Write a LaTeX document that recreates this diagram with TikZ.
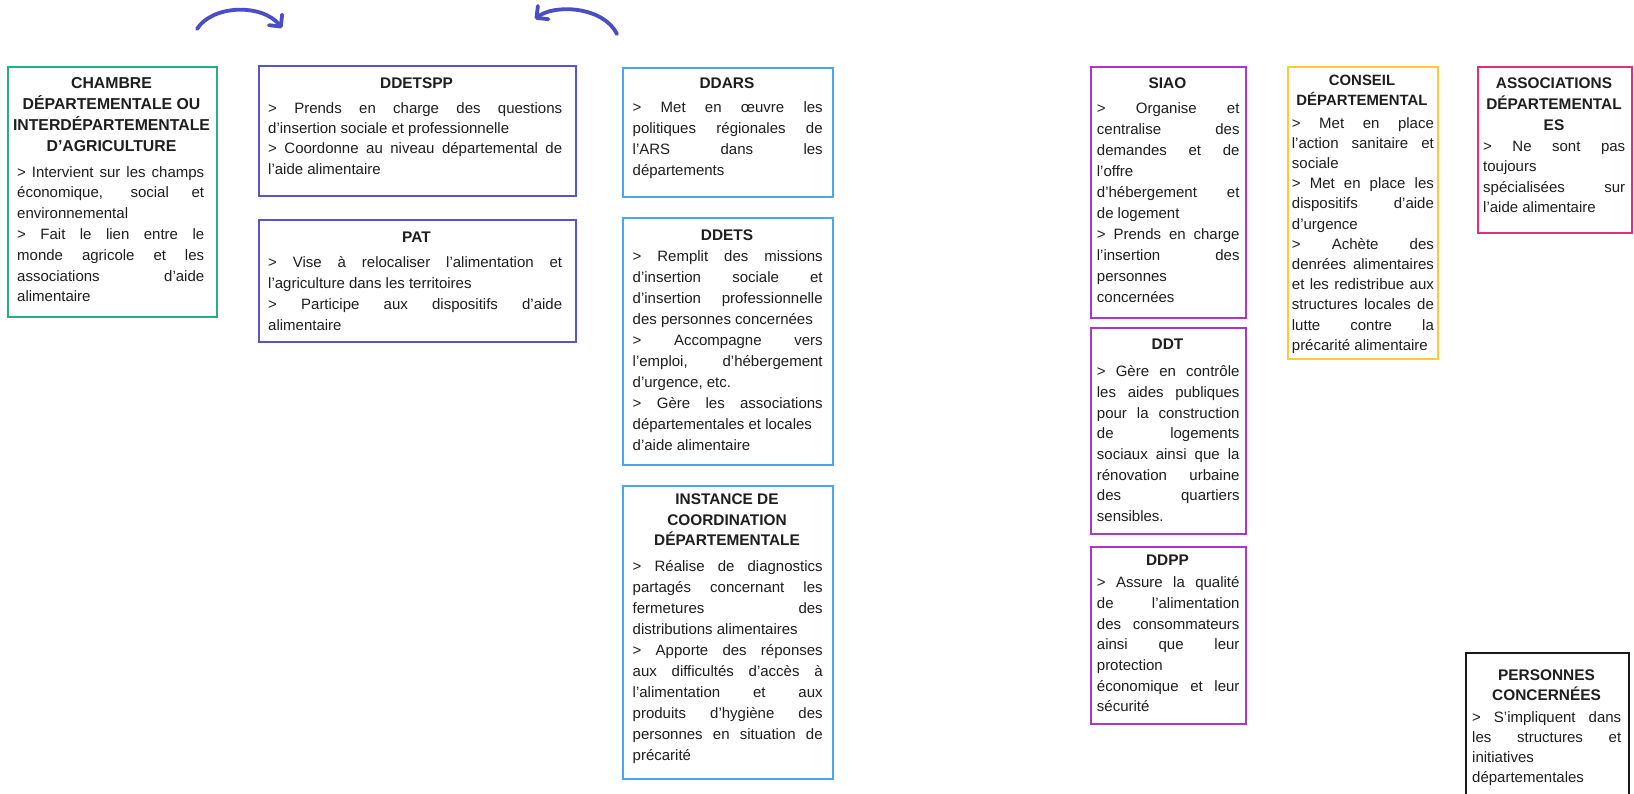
\documentclass[tikz,border=0pt]{standalone}
\usepackage{fontspec}
\setmainfont{Liberation Sans}
\usetikzlibrary{arrows.meta}
\definecolor{cgreen}{HTML}{27AD89}
\definecolor{cindigo}{HTML}{5557C6}
\definecolor{clblue}{HTML}{47A6F0}
\definecolor{cpurple}{HTML}{A839C8}
\definecolor{cyellow}{HTML}{FFC93A}
\definecolor{cpink}{HTML}{E0307C}
\definecolor{cblack}{HTML}{1A1A1A}
\definecolor{carrow}{HTML}{4A4EC2}
\definecolor{ctext}{HTML}{1E1E1E}
\newcommand{\jline}[1]{\makebox[\linewidth][s]{#1}\par}
\newcommand{\pline}[1]{#1\par}
\newcommand{\ttext}[4]{\parbox[t]{#1}{\centering\fontsize{#4}{#2}\selectfont\bfseries #3}}
\newcommand{\btext}[3]{\parbox[t]{#1}{\fontsize{15}{#2}\selectfont #3}}
\tikzset{
  frame/.style={draw=#1, line width=2.2pt, inner sep=0pt, anchor=north west, fill=none},
  ttl/.style={inner sep=0pt, anchor=base, text=ctext},
  bdy/.style={inner sep=0pt, anchor=base west, text=ctext},
  swoosh/.style={draw=carrow, line width=3.8pt, line cap=round,
    -{Straight Barb[length=8.5pt,width=17pt,line width=3.8pt,round]}},
}
\begin{document}
\begin{tikzpicture}[x=1pt,y=-1pt]
\useasboundingbox (0,0) rectangle (1634,793);
\fill[white] (0,0) rectangle (1634,793);

% top arrows
\coordinate (a1s) at (197,29);
\coordinate (a1e) at (282,28);
\coordinate (a2s) at (617,34);
\coordinate (a2e) at (535,19);
\draw[swoosh] (a1s) .. controls (212,5) and (262,3) .. (a1e);
\draw[swoosh] (a2s) .. controls (603,6) and (554,4) .. (a2e);

% CHAMBRE
\node[frame=cgreen, minimum width=209pt, minimum height=250pt] (cham) at (7,66) {};
\node[ttl] (chamt) at (111.5,88.5) {\ttext{209pt}{21pt}{CHAMBRE\\DÉPARTEMENTALE OU\\INTERDÉPARTEMENTALE\\D'AGRICULTURE}{15.8}};
\node[bdy] (chamb) at (17,177) {\btext{187pt}{20.8pt}{%
\jline{> Intervient sur les champs}
\jline{économique, social et}
\pline{environnemental}
\jline{> Fait le lien entre le}
\jline{monde agricole et les}
\jline{associations d'aide}
\pline{alimentaire}}};

% DDETSPP
\node[frame=cindigo, minimum width=317pt, minimum height=130pt] (ddetspp) at (258,65) {};
\node[ttl] (ddetsppt) at (416.5,88.5) {\ttext{317pt}{21pt}{DDETSPP}{15.4}};
\node[bdy] (ddetsppb) at (268,113.5) {\btext{294pt}{20.2pt}{%
\jline{> Prends en charge des questions}
\pline{d'insertion sociale et professionnelle}
\jline{> Coordonne au niveau départemental de}
\pline{l'aide alimentaire}}};

% PAT
\node[frame=cindigo, minimum width=317pt, minimum height=122pt] (pat) at (258,219) {};
\node[ttl] (patt) at (416.5,242) {\ttext{317pt}{21pt}{PAT}{15.4}};
\node[bdy] (patb) at (268,267) {\btext{294pt}{21.3pt}{%
\jline{> Vise à relocaliser l'alimentation et}
\pline{l'agriculture dans les territoires}
\jline{> Participe aux dispositifs d'aide}
\pline{alimentaire}}};

% DDARS
\node[frame=clblue, minimum width=210pt, minimum height=129pt] (ddars) at (622,67) {};
\node[ttl] (ddarst) at (727,88.5) {\ttext{210pt}{21pt}{DDARS}{15.4}};
\node[bdy] (ddarsb) at (632.5,112) {\btext{190pt}{21pt}{%
\jline{> Met en œuvre les}
\jline{politiques régionales de}
\jline{l'ARS dans les}
\pline{départements}}};

% DDETS
\node[frame=clblue, minimum width=210pt, minimum height=247pt] (ddets) at (622,217) {};
\node[ttl] (ddetst) at (727,240) {\ttext{210pt}{21pt}{DDETS}{15.4}};
\node[bdy] (ddetsb) at (632.5,261) {\btext{190pt}{21.1pt}{%
\jline{> Remplit des missions}
\jline{d'insertion sociale et}
\jline{d'insertion professionnelle}
\pline{des personnes concernées}
\jline{> Accompagne vers}
\jline{l'emploi, d'hébergement}
\pline{d'urgence, etc.}
\jline{> Gère les associations}
\pline{départementales et locales}
\pline{d'aide alimentaire}}};

% INSTANCE
\node[frame=clblue, minimum width=210pt, minimum height=293pt] (inst) at (622,485) {};
\node[ttl] (instt) at (727,504.5) {\ttext{210pt}{20.5pt}{INSTANCE DE\\COORDINATION\\DÉPARTEMENTALE}{15.4}};
\node[bdy] (instb) at (632.5,571) {\btext{190pt}{21.1pt}{%
\jline{> Réalise de diagnostics}
\jline{partagés concernant les}
\jline{fermetures des}
\pline{distributions alimentaires}
\jline{> Apporte des réponses}
\jline{aux difficultés d'accès à}
\jline{l'alimentation et aux}
\jline{produits d'hygiène des}
\jline{personnes en situation de}
\pline{précarité}}};

% SIAO
\node[frame=cpurple, minimum width=155pt, minimum height=251pt] (siao) at (1090,66) {};
\node[ttl] (siaot) at (1167.5,88) {\ttext{155pt}{21pt}{SIAO}{15.4}};
\node[bdy] (siaob) at (1096.7,113.3) {\btext{142.6pt}{21pt}{%
\jline{> Organise et}
\jline{centralise des}
\jline{demandes et de}
\pline{l'offre}
\jline{d'hébergement et}
\pline{de logement}
\jline{> Prends en charge}
\jline{l'insertion des}
\pline{personnes}
\pline{concernées}}};

% DDT
\node[frame=cpurple, minimum width=155pt, minimum height=206pt] (ddt) at (1090,327) {};
\node[ttl] (ddtt) at (1167.5,349.5) {\ttext{155pt}{21pt}{DDT}{15.4}};
\node[bdy] (ddtb) at (1096.7,376.7) {\btext{142.6pt}{20.7pt}{%
\jline{> Gère en contrôle}
\jline{les aides publiques}
\jline{pour la construction}
\jline{de logements}
\jline{sociaux ainsi que la}
\jline{rénovation urbaine}
\jline{des quartiers}
\pline{sensibles.}}};

% DDPP
\node[frame=cpurple, minimum width=155pt, minimum height=177pt] (ddpp) at (1090,546) {};
\node[ttl] (ddppt) at (1167.5,565.5) {\ttext{155pt}{21pt}{DDPP}{15.4}};
\node[bdy] (ddppb) at (1096.7,587.7) {\btext{142.6pt}{20.7pt}{%
\jline{> Assure la qualité}
\jline{de l'alimentation}
\jline{des consommateurs}
\jline{ainsi que leur}
\pline{protection}
\jline{économique et leur}
\pline{sécurité}}};

% CONSEIL
\node[frame=cyellow, minimum width=150pt, minimum height=292pt] (cons) at (1287,66) {};
\node[ttl] (const) at (1362,85.5) {\ttext{150pt}{20pt}{CONSEIL\\DÉPARTEMENTAL}{14.9}};
\node[bdy] (consb) at (1291.7,128) {\btext{142pt}{20.2pt}{%
\jline{> Met en place}
\jline{l'action sanitaire et}
\pline{sociale}
\jline{> Met en place les}
\jline{dispositifs d'aide}
\pline{d'urgence}
\jline{> Achète des}
\jline{denrées alimentaires}
\jline{et les redistribue aux}
\jline{structures locales de}
\jline{lutte contre la}
\pline{précarité alimentaire}}};

% ASSOCIATIONS
\node[frame=cpink, minimum width=154pt, minimum height=165.5pt] (asso) at (1477,66) {};
\node[ttl] (assot) at (1554,88.8) {\ttext{154pt}{20.9pt}{ASSOCIATIONS\\DÉPARTEMENTAL\\ES}{15.4}};
\node[bdy] (assob) at (1483,151.7) {\btext{142pt}{20.2pt}{%
\jline{> Ne sont pas}
\pline{toujours}
\jline{spécialisées sur}
\pline{l'aide alimentaire}}};

% PERSONNES
\node[frame=cblack, minimum width=163pt, minimum height=170pt] (pers) at (1465,652) {};
\node[ttl] (perst) at (1546.5,680) {\ttext{163pt}{20.5pt}{PERSONNES\\CONCERNÉES}{15.4}};
\node[bdy] (persb) at (1472,722) {\btext{149pt}{20pt}{%
\jline{> S'impliquent dans}
\jline{les structures et}
\pline{initiatives}
\pline{départementales}}};
\end{tikzpicture}
\end{document}
